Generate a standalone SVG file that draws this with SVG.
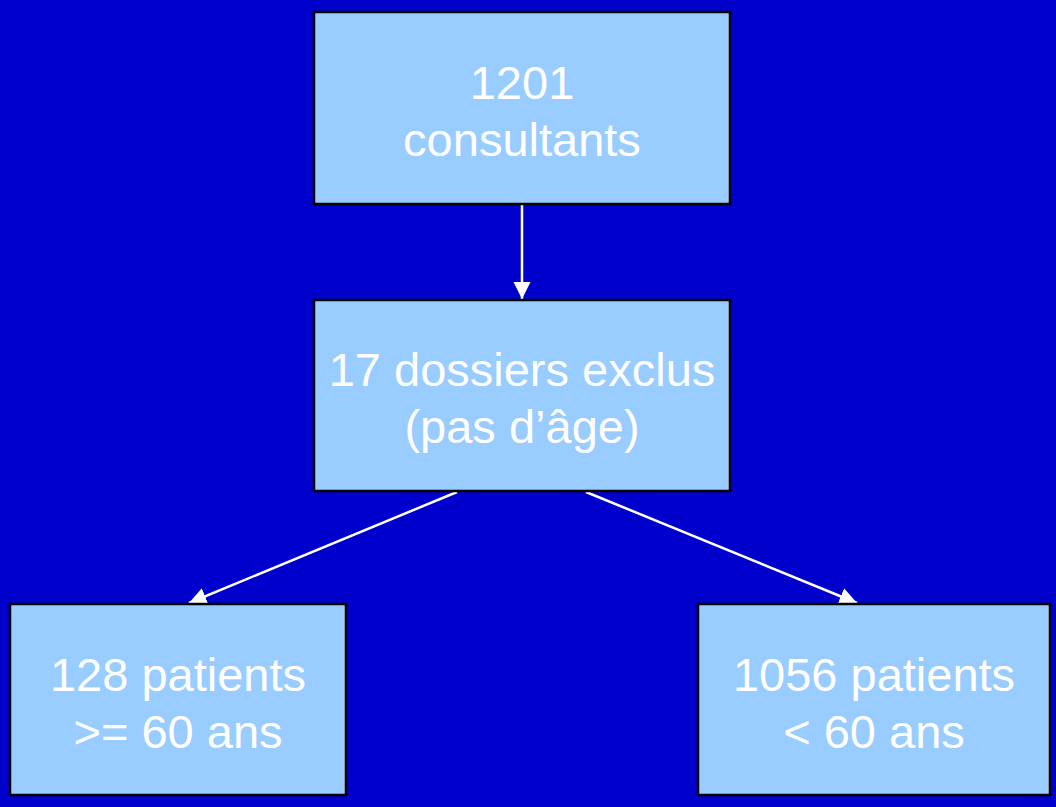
<svg xmlns="http://www.w3.org/2000/svg" width="1056" height="807" viewBox="0 0 1056 807">
  <style>
    .box { fill: #99CCFF; stroke: #000000; stroke-width: 2.5; }
    .lbl { fill: #FFFFFF; font-family: "Liberation Sans", "DejaVu Sans", sans-serif; font-size: 47px; text-anchor: middle; }
    .conn { stroke: #FFFFFF; stroke-width: 2.5; fill: none; marker-end: url(#arrow); }
  </style>
  <defs>
    <marker id="arrow" viewBox="0 0 10 10" refX="10" refY="5" markerWidth="7" markerHeight="7" markerUnits="strokeWidth" orient="auto">
      <path d="M0,0 L10,5 L0,10 Z" fill="#FFFFFF"/>
    </marker>
  </defs>
  <rect x="0" y="0" width="1056" height="807" fill="#0000CC"/>
  <g id="connectors">
    <line class="conn" x1="522" y1="205" x2="522" y2="299"/>
    <line class="conn" x1="457" y1="492" x2="189" y2="603"/>
    <line class="conn" x1="586" y1="492" x2="857" y2="603"/>
  </g>
  <g id="node-consultants">
    <rect class="box" x="314" y="12" width="416" height="192"/>
    <text class="lbl" x="522" y="99">1201</text>
    <text class="lbl" x="522" y="156">consultants</text>
  </g>
  <g id="node-exclus">
    <rect class="box" x="314" y="300" width="416" height="191"/>
    <text class="lbl" x="522" y="386">17 dossiers exclus</text>
    <text class="lbl" x="522" y="443">(pas d’âge)</text>
  </g>
  <g id="node-sup60">
    <rect class="box" x="10" y="604" width="336" height="191"/>
    <text class="lbl" x="178" y="691">128 patients</text>
    <text class="lbl" x="178" y="748">&gt;= 60 ans</text>
  </g>
  <g id="node-inf60">
    <rect class="box" x="698" y="604" width="352" height="191"/>
    <text class="lbl" x="874" y="691">1056 patients</text>
    <text class="lbl" x="874" y="748">&lt; 60 ans</text>
  </g>
</svg>
